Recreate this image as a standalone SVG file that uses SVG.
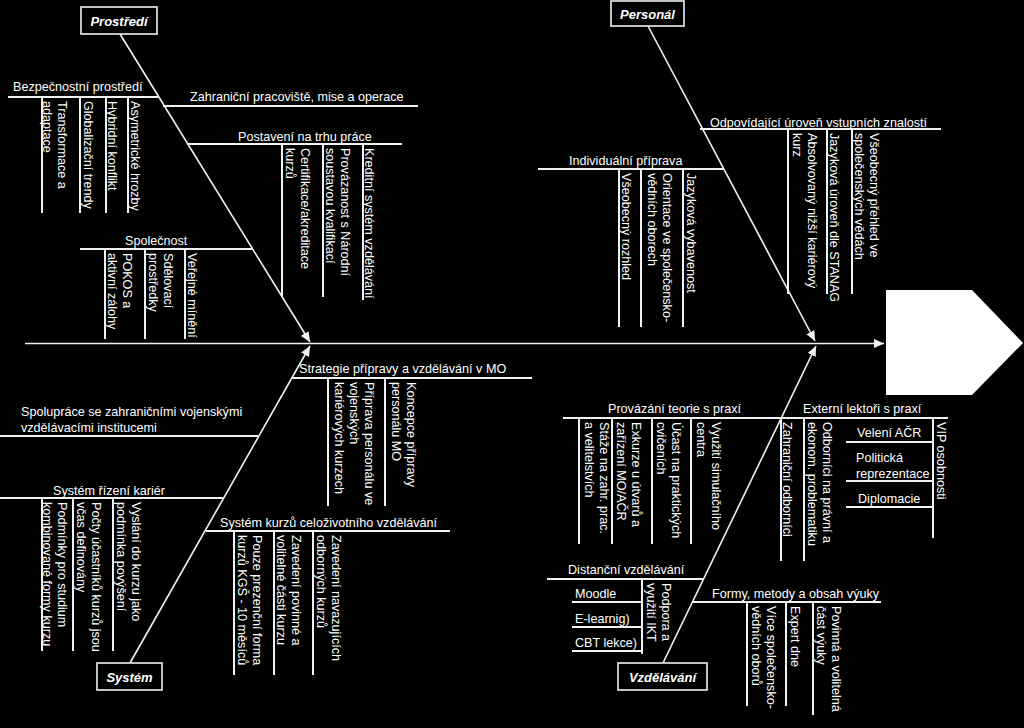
<svg xmlns="http://www.w3.org/2000/svg" width="1024" height="728" viewBox="0 0 1024 728">
<style>
  text { font-family: "Liberation Sans", Arial, sans-serif; font-size: 12.6px; fill: #ffffff; }
  .cat { font-weight: bold; font-style: italic; font-size: 13px; text-anchor: middle; }
  .box { fill: #000000; stroke: #f2f2f2; stroke-width: 1.6; }
  .bone { stroke: #f2f2f2; stroke-width: 1.6; fill: none; }
  .sub { stroke: #f2f2f2; stroke-width: 2; fill: none; }
</style>
<defs>
  <marker id="arr" markerUnits="userSpaceOnUse" markerWidth="11" markerHeight="9" refX="10" refY="4.5" orient="auto">
    <path d="M0,0 L10,4.5 L0,9 z" fill="#f2f2f2"/>
  </marker>
</defs>
<rect x="0" y="0" width="1024" height="728" fill="#000000"/>

<g id="connectors">
  <line class="bone" x1="25" y1="343.5" x2="884" y2="343.5" marker-end="url(#arr)"/>
  <line class="bone" x1="120" y1="34" x2="310" y2="342" marker-end="url(#arr)"/>
  <line class="bone" x1="648" y1="26" x2="815" y2="341" marker-end="url(#arr)"/>
  <line class="bone" x1="130" y1="663" x2="310" y2="346" marker-end="url(#arr)"/>
  <line class="bone" x1="663" y1="663" x2="816" y2="346" marker-end="url(#arr)"/>
</g>

<g id="head">
  <polygon points="886,290 972,290 1023,343 972,395 886,395" fill="#ffffff"/>
</g>

<g id="prostredi">
  <rect class="box" x="81" y="7" width="76" height="27"/>
  <text class="cat" x="119" y="26">Prostředí</text>
</g>
<g id="personal">
  <rect class="box" x="611" y="1" width="73" height="25"/>
  <text class="cat" x="647.5" y="19">Personál</text>
</g>
<g id="system">
  <rect class="box" x="97" y="663" width="65" height="27"/>
  <text class="cat" x="129.5" y="682">Systém</text>
</g>
<g id="vzdelavani">
  <rect class="box" x="618" y="663" width="89" height="27"/>
  <text class="cat" x="662.5" y="682">Vzdělávání</text>
</g>

<!-- Bezpečnostní prostředí -->
<g id="bezpecnostni">
  <line class="sub" x1="8" y1="97" x2="158" y2="97"/>
  <text x="13" y="91">Bezpečnostní prostředí</text>
  <line class="sub" x1="42" y1="97" x2="42" y2="213"/>
  <line class="sub" x1="80" y1="97" x2="80" y2="213"/>
  <line class="sub" x1="106" y1="97" x2="106" y2="213"/>
  <line class="sub" x1="128" y1="97" x2="128" y2="213"/>
  <text transform="translate(58,101) rotate(90)">Transformace a<tspan x="0" dy="15">adaptace</tspan></text>
  <text transform="translate(84,101) rotate(90)">Globalizační trendy</text>
  <text transform="translate(108,101) rotate(90)">Hybridní konflikt</text>
  <text transform="translate(131,101) rotate(90)">Asymetrické hrozby</text>
</g>

<g id="zahranicni">
  <line class="sub" x1="163" y1="106" x2="418" y2="106"/>
  <text x="190" y="101">Zahraniční pracoviště, mise a operace</text>
</g>

<g id="postaveni">
  <line class="sub" x1="187" y1="144" x2="402" y2="144"/>
  <text x="238" y="141">Postavení na trhu práce</text>
  <line class="sub" x1="282" y1="144" x2="282" y2="297"/>
  <line class="sub" x1="323" y1="144" x2="323" y2="297"/>
  <line class="sub" x1="363" y1="144" x2="363" y2="300"/>
  <text transform="translate(301,148) rotate(90)">Certifikace/akreditace<tspan x="0" dy="15">kurzů</tspan></text>
  <text transform="translate(341,148) rotate(90)">Provázanost s Národní<tspan x="0" dy="15">soustavou kvalifikací</tspan></text>
  <text transform="translate(365,148) rotate(90)">Kreditní systém vzdělávání</text>
</g>

<g id="spolecnost">
  <line class="sub" x1="80" y1="249" x2="252" y2="249"/>
  <text x="125" y="245">Společnost</text>
  <line class="sub" x1="105" y1="249" x2="105" y2="339"/>
  <line class="sub" x1="145" y1="249" x2="145" y2="339"/>
  <line class="sub" x1="185" y1="249" x2="185" y2="339"/>
  <text transform="translate(123,253) rotate(90)">POKOS a<tspan x="0" dy="15">aktivní zálohy</tspan></text>
  <text transform="translate(164,253) rotate(90)">Sdělovací<tspan x="0" dy="15">prostředky</tspan></text>
  <text transform="translate(188,253) rotate(90)">Veřejné mínění</text>
</g>

<g id="odpovidajici">
  <line class="sub" x1="700" y1="129" x2="941" y2="129"/>
  <text x="710" y="127">Odpovídající úroveň vstupních znalostí</text>
  <line class="sub" x1="788" y1="129" x2="788" y2="294"/>
  <line class="sub" x1="827" y1="129" x2="827" y2="294"/>
  <line class="sub" x1="852" y1="129" x2="852" y2="294"/>
  <text transform="translate(808,133) rotate(90)">Absolvovaný nižší kariérový<tspan x="0" dy="15">kurz</tspan></text>
  <text transform="translate(830,133) rotate(90)">Jazyková úroveň dle STANAG</text>
  <text transform="translate(870,133) rotate(90)">Všeobecný přehled ve<tspan x="0" dy="15">společenských vědách</tspan></text>
</g>

<g id="individualni">
  <line class="sub" x1="538" y1="169" x2="723" y2="169"/>
  <text x="569" y="165">Individuální příprava</text>
  <line class="sub" x1="619" y1="169" x2="619" y2="327"/>
  <line class="sub" x1="641" y1="169" x2="641" y2="327"/>
  <line class="sub" x1="683" y1="169" x2="683" y2="327"/>
  <text transform="translate(622,173) rotate(90)">Všeobecný rozhled</text>
  <text transform="translate(663,173) rotate(90)">Orientace ve společensko-<tspan x="0" dy="15">vědních oborech</tspan></text>
  <text transform="translate(687,173) rotate(90)">Jazyková vybavenost</text>
</g>

<g id="strategie">
  <line class="sub" x1="291" y1="378" x2="532" y2="378"/>
  <text x="299" y="373">Strategie přípravy a vzdělávání v MO</text>
  <line class="sub" x1="328" y1="378" x2="328" y2="506"/>
  <line class="sub" x1="385" y1="378" x2="385" y2="506"/>
  <text transform="translate(365,382) rotate(90)">Příprava personálu ve<tspan x="0" dy="15">vojenských</tspan><tspan x="0" dy="15">kariérových kurzech</tspan></text>
  <text transform="translate(407,382) rotate(90)">Koncepce přípravy<tspan x="0" dy="15">personálu MO</tspan></text>
</g>

<g id="spoluprace">
  <line class="sub" x1="0" y1="436" x2="258" y2="436"/>
  <text x="21" y="416">Spolupráce se zahraničními vojenskými<tspan x="21" dy="16">vzdělávacími institucemi</tspan></text>
</g>

<g id="rizeni">
  <line class="sub" x1="0" y1="498" x2="223" y2="498"/>
  <text x="53" y="495">Systém řízení kariér</text>
  <line class="sub" x1="42" y1="498" x2="42" y2="651"/>
  <line class="sub" x1="73" y1="498" x2="73" y2="651"/>
  <line class="sub" x1="113" y1="498" x2="113" y2="651"/>
  <text transform="translate(58,502) rotate(90)">Podmínky pro studium<tspan x="0" dy="15">kombinované formy kurzu</tspan></text>
  <text transform="translate(92,502) rotate(90)">Počty účastníků kurzů jsou<tspan x="0" dy="15">včas definovány</tspan></text>
  <text transform="translate(132,502) rotate(90)">Vyslání do kurzu jako<tspan x="0" dy="15">podmínka povýšení</tspan></text>
</g>

<g id="kurzy">
  <line class="sub" x1="206" y1="531" x2="450" y2="531"/>
  <text x="220" y="527">Systém kurzů celoživotního vzdělávání</text>
  <line class="sub" x1="234" y1="531" x2="234" y2="675"/>
  <line class="sub" x1="274" y1="531" x2="274" y2="675"/>
  <line class="sub" x1="313" y1="531" x2="313" y2="675"/>
  <text transform="translate(253,535) rotate(90)">Pouze prezenční forma<tspan x="0" dy="15">kurzů KGŠ - 10 měsíců</tspan></text>
  <text transform="translate(292,535) rotate(90)">Zavedení povinné a<tspan x="0" dy="15">volitelné části kurzu</tspan></text>
  <text transform="translate(332,535) rotate(90)">Zavedení navazujících<tspan x="0" dy="15">odborných kurzů</tspan></text>
</g>

<g id="provazani">
  <line class="sub" x1="563" y1="418" x2="782" y2="418"/>
  <text x="608" y="413">Provázání teorie s praxí</text>
  <line class="sub" x1="579" y1="418" x2="579" y2="544"/>
  <line class="sub" x1="612" y1="418" x2="612" y2="544"/>
  <line class="sub" x1="652" y1="418" x2="652" y2="544"/>
  <line class="sub" x1="691" y1="418" x2="691" y2="544"/>
  <text transform="translate(600,422) rotate(90)">Stáže na zahr. prac.<tspan x="0" dy="15">a velitelstvích</tspan></text>
  <text transform="translate(632,422) rotate(90)">Exkurze u útvarů a<tspan x="0" dy="15">zařízení MO/AČR</tspan></text>
  <text transform="translate(672,422) rotate(90)">Účast na praktických<tspan x="0" dy="15">cvičeních</tspan></text>
  <text transform="translate(712,422) rotate(90)">Využití simulačního<tspan x="0" dy="15">centra</tspan></text>
</g>

<g id="externi">
  <line class="sub" x1="770" y1="418" x2="948" y2="418"/>
  <text x="803" y="413">Externí lektoři s praxí</text>
  <line class="sub" x1="781" y1="418" x2="781" y2="561"/>
  <line class="sub" x1="804" y1="418" x2="804" y2="561"/>
  <line class="sub" x1="933" y1="418" x2="933" y2="538"/>
  <text transform="translate(783,422) rotate(90)">Zahraniční odborníci</text>
  <text transform="translate(823,422) rotate(90)">Odborníci na právní a<tspan x="0" dy="15">ekonom. problematiku</tspan></text>
  <text transform="translate(937,422) rotate(90)">VIP osobnosti</text>
  <line class="sub" x1="846" y1="442" x2="933" y2="442"/>
  <line class="sub" x1="846" y1="481" x2="933" y2="481"/>
  <line class="sub" x1="846" y1="507" x2="933" y2="507"/>
  <text x="857" y="437">Velení AČR</text>
  <text x="856" y="462">Politická<tspan x="856" dy="16">reprezentace</tspan></text>
  <text x="858" y="503">Diplomacie</text>
</g>

<g id="distancni">
  <line class="sub" x1="547" y1="579" x2="703" y2="579"/>
  <text x="568" y="574">Distanční vzdělávání</text>
  <line class="sub" x1="642" y1="579" x2="642" y2="654"/>
  <text transform="translate(662,583) rotate(90)">Podpora a<tspan x="0" dy="15">využití IKT</tspan></text>
  <line class="sub" x1="572" y1="602" x2="642" y2="602"/>
  <line class="sub" x1="572" y1="627" x2="642" y2="627"/>
  <line class="sub" x1="572" y1="651" x2="642" y2="651"/>
  <text x="575" y="598">Moodle</text>
  <text x="575" y="623">E-learnig)</text>
  <text x="575" y="647">CBT lekce)</text>
</g>

<g id="formy">
  <line class="sub" x1="692" y1="602" x2="881" y2="602"/>
  <text x="712" y="598">Formy, metody a obsah výuky</text>
  <line class="sub" x1="747" y1="602" x2="747" y2="706"/>
  <line class="sub" x1="786" y1="602" x2="786" y2="706"/>
  <line class="sub" x1="813" y1="602" x2="813" y2="715"/>
  <text transform="translate(767,606) rotate(90)">Více společensko-<tspan x="0" dy="15">vědních oborů</tspan></text>
  <text transform="translate(791,606) rotate(90)">Expert dne</text>
  <text transform="translate(832,606) rotate(90)">Povinná a volitelná<tspan x="0" dy="15">část výuky</tspan></text>
</g>
</svg>
